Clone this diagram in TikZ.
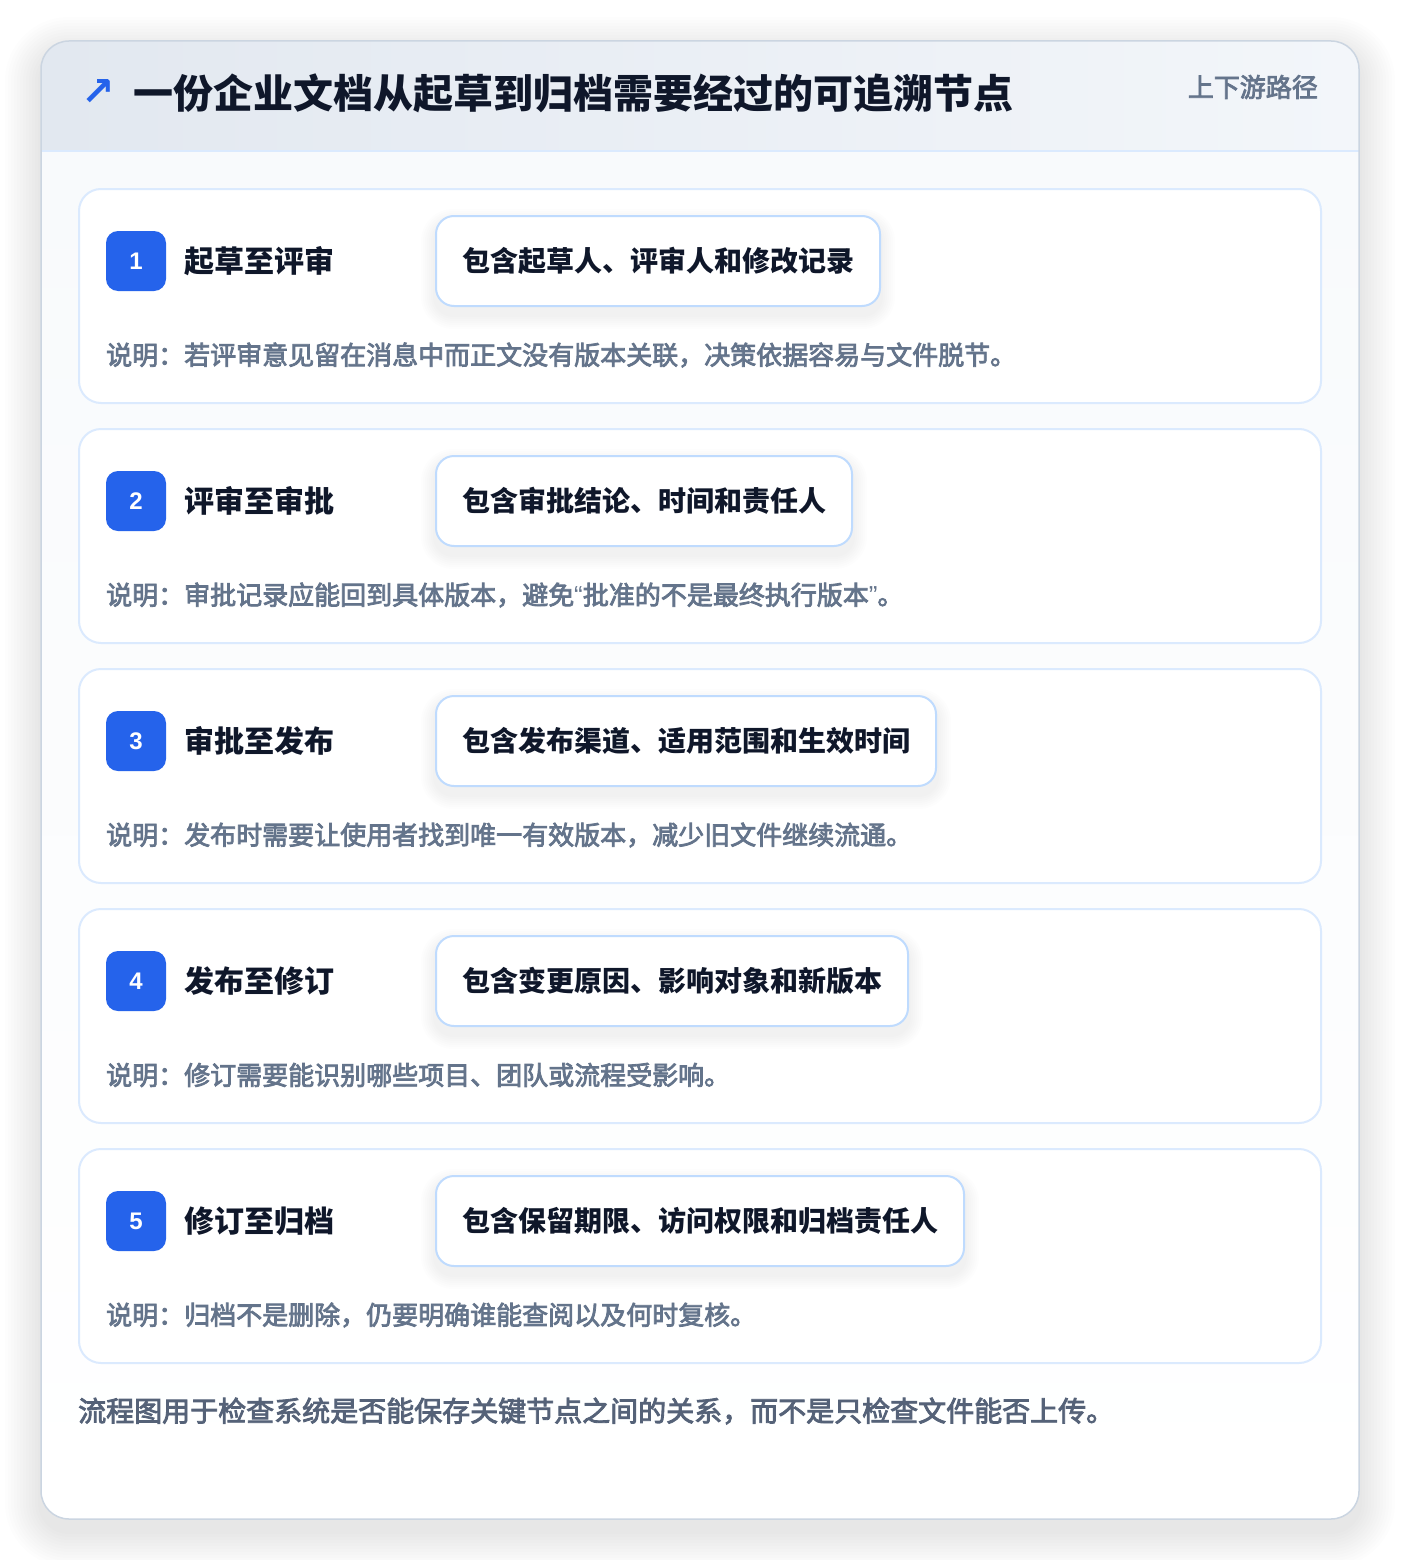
\documentclass[tikz,border=0pt]{standalone}
\usepackage{fontspec}
\setmainfont{Noto Sans CJK SC}
\newfontfamily\medfont[FakeBold=3]{Noto Sans CJK SC}
\newfontfamily\numfont{Liberation Sans}
\newfontfamily\symfont{DejaVu Sans}
\usetikzlibrary{positioning}

\definecolor{ink}{HTML}{0F172A}
\definecolor{muted}{HTML}{64748B}
\definecolor{footink}{HTML}{556278}
\definecolor{accent}{HTML}{2563EB}
\definecolor{frameline}{HTML}{CBD5E1}
\definecolor{cardline}{HTML}{DBEAFE}
\definecolor{tagline}{HTML}{BFDBFE}
\definecolor{headleft}{HTML}{E2E8F0}
\definecolor{headright}{HTML}{F3F6FA}
\definecolor{bodytop}{HTML}{F8FAFC}

\pgfdeclarelayer{frame}
\pgfdeclarelayer{cards}
\pgfdeclarelayer{shade}
\pgfsetlayers{frame,cards,shade,main}

\newcommand{\qt}[1]{{\numfont #1}}

\tikzset{
  card/.style={draw=cardline, line width=2pt, fill=white, rounded corners=22pt},
  badge/.style={fill=accent, rounded corners=12pt, minimum size=60pt, inner sep=0pt,
    text=white, font=\numfont\bfseries\fontsize{24}{24}\selectfont},
  steptitle/.style={inner sep=0pt, text=ink, font=\bfseries\fontsize{30}{30}\selectfont},
  tagbox/.style={anchor=west, draw=tagline, line width=2pt, fill=white, rounded corners=18pt,
    minimum height=90pt, inner xsep=26pt, text=ink, font=\bfseries\fontsize{28}{28}\selectfont},
  note/.style={anchor=west, inner sep=0pt, text=muted, font=\medfont\fontsize{26}{26}\selectfont},
  haze/.style={fill=black, fill opacity=#1}
}

\begin{document}
\begin{tikzpicture}[x=1pt,y=-1pt]

  % page
  \useasboundingbox (0,0) rectangle (1400,1560);

  % frame with header
  \begin{pgfonlayer}{frame}
    \fill[white] (0,0) rectangle (1400,1560);
    \foreach \s in {3,6,...,36}
      \fill[haze=0.008, rounded corners=28pt+\s pt] (41-\s,53-\s) rectangle (1359+\s,1531+\s);
    \fill[white, rounded corners=28pt] (41,41) rectangle (1359,1519);
    \begin{scope}
      \clip[rounded corners=28pt] (41,41) rectangle (1359,1519);
      \shade[top color=bodytop, bottom color=white] (41,151) rectangle (1359,1519);
      \shade[left color=headleft, right color=headright] (41,41) rectangle (1359,151);
      \draw[cardline, line width=2pt] (41,151) -- (1359,151);
    \end{scope}
    \draw[frameline, line width=1.5pt, rounded corners=28pt] (41,41) rectangle (1359,1519);
  \end{pgfonlayer}

  % header texts
  \node[inner sep=0pt, text=accent, font=\symfont\bfseries\fontsize{40}{40}\selectfont] (icon) at (98,93) {↗};
  \node[anchor=west, inner sep=0pt, text=ink, font=\bfseries\fontsize{40}{40}\selectfont] (title) at (133,93)
    {一份企业文档从起草到归档需要经过的可追溯节点};
  \node[anchor=east, inner sep=0pt, text=muted, font=\medfont\fontsize{26}{26}\selectfont] (scope) at (1318,87) {上下游路径};

  % steps
  \foreach \i/\ttl/\tg/\desc in {
    1/起草至评审/包含起草人、评审人和修改记录/说明：若评审意见留在消息中而正文没有版本关联，决策依据容易与文件脱节。,
    2/评审至审批/包含审批结论、时间和责任人/说明：审批记录应能回到具体版本，避免\qt{“}批准的不是最终执行版本\qt{”}。,
    3/审批至发布/包含发布渠道、适用范围和生效时间/说明：发布时需要让使用者找到唯一有效版本，减少旧文件继续流通。,
    4/发布至修订/包含变更原因、影响对象和新版本/说明：修订需要能识别哪些项目、团队或流程受影响。,
    5/修订至归档/包含保留期限、访问权限和归档责任人/说明：归档不是删除，仍要明确谁能查阅以及何时复核。}{
    \pgfmathsetmacro{\top}{189+240*(\i-1)}
    \begin{pgfonlayer}{cards}
      \draw[card] (79,\top) rectangle (1321,\top+214);
    \end{pgfonlayer}
    \node[badge] (badge\i) at (136,\top+72) {\i};
    \node[steptitle, right=18pt of badge\i] (step\i) {\ttl};
    \node[tagbox] (tag\i) at (435,\top+72) {\tg};
    \node[note] (note\i) at (106,\top+166) {\desc};
    \begin{pgfonlayer}{shade}
      \foreach \s in {2,4,...,14}
        \fill[haze=0.008, rounded corners=18pt+\s pt]
          ([xshift=-\s pt, yshift=-\s pt-8pt]tag\i.south west) rectangle ([xshift=\s pt, yshift=\s pt-8pt]tag\i.north east);
    \end{pgfonlayer}
  }

  % footer
  \node[anchor=west, inner sep=0pt, text=footink, font=\medfont\fontsize{28}{28}\selectfont] (footer) at (78,1411)
    {流程图用于检查系统是否能保存关键节点之间的关系，而不是只检查文件能否上传。};

\end{tikzpicture}
\end{document}
